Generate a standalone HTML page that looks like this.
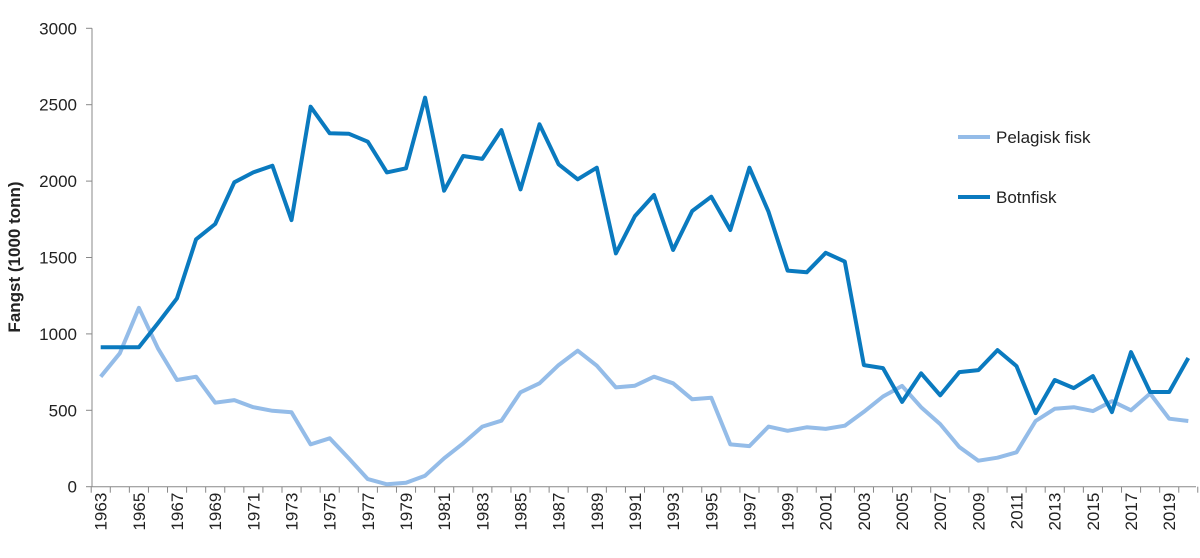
<!DOCTYPE html>
<html><head><meta charset="utf-8"><style>
body{margin:0;background:#fff;}
svg{display:block;font-family:"Liberation Sans",sans-serif;}
</style></head><body>
<svg id="chart" width="1200" height="558"></svg>
<script>
const years = [];
for (let y = 1963; y <= 2020; y++) years.push(y);
const botnfisk = [912,912,912,1070,1233,1619,1719,1992,2057,2101,1745,2487,2313,2310,2258,2057,2084,2546,1937,2164,2145,2334,1946,2372,2110,2012,2088,1527,1771,1909,1549,1804,1898,1680,2088,1800,1414,1403,1531,1473,796,776,555,742,598,750,763,894,789,482,698,645,724,488,881,620,620,842];
const pelagisk = [720,873,1171,906,698,720,550,567,520,497,487,277,317,186,50,16,26,72,186,284,393,432,618,677,796,890,792,650,661,720,677,572,582,277,266,393,366,389,378,399,490,590,660,520,410,260,170,190,225,430,510,520,495,560,500,610,445,430];
const yTicks = [0,500,1000,1500,2000,2500,3000];
const NS = "http://www.w3.org/2000/svg";
const svg = document.getElementById('chart');
const x0 = 100.7, dx = 19.08, yBase = 486.7, yScale = 76.4/500;
const X = yr => x0 + (yr - 1963) * dx;
const Y = v => yBase - v * yScale;
function el(tag, attrs, parent) {
  const e = document.createElementNS(NS, tag);
  for (const k in attrs) e.setAttribute(k, attrs[k]);
  (parent || svg).appendChild(e);
  return e;
}
// y axis
const ya = el('line', {x1:92, y1:Y(3000), x2:92, y2:yBase, stroke:'#888', 'stroke-width':1});


yTicks.forEach(t => {
  el('line', {x1:86, y1:Y(t), x2:92, y2:Y(t), stroke:'#888'});
  const lb = el('text', {x:77, y:Y(t)+6, 'text-anchor':'end', 'font-size':17, fill:'#222'});
  lb.textContent = t;
  
  
});
// x axis
const xa = el('line', {x1:92, y1:yBase, x2:1196, y2:yBase, stroke:'#888', 'stroke-width':1});


years.forEach((yr, i) => {
  el('line', {x1:X(yr)-9.5, y1:yBase, x2:X(yr)-9.5, y2:yBase+6, stroke:'#888'});
  if (i % 2 === 0) {
    const lb = el('text', {x:0, y:0, 'text-anchor':'end', 'font-size':17, fill:'#222',
      transform:`translate(${X(yr)+6},${yBase+6}) rotate(-90)`});
    lb.textContent = yr;
    
    
  }
});
el('line', {x1:X(2020)+9.5, y1:yBase, x2:X(2020)+9.5, y2:yBase+6, stroke:'#888'});
// y title
const yt = el('text', {x:0, y:0, 'text-anchor':'middle', 'font-size':17, 'font-weight':'bold', fill:'#222',
  transform:'translate(20,257) rotate(-90)'});
yt.textContent = 'Fangst (1000 tonn)';


// series
function pts(arr) { return arr.map((v, i) => X(years[i]).toFixed(1) + ',' + Y(v).toFixed(1)).join(' '); }
const pl = el('polyline', {points:pts(pelagisk), fill:'none', stroke:'#94bce8', 'stroke-width':4, 'stroke-linejoin':'round'});


const bl = el('polyline', {points:pts(botnfisk), fill:'none', stroke:'#0a7abf', 'stroke-width':4, 'stroke-linejoin':'round'});


// legend
const leg = [['Pelagisk fisk', '#94bce8', 137], ['Botnfisk', '#0a7abf', 197]];
leg.forEach(([name, col, y]) => {
  const g = el('g', {});
  
  
  el('line', {x1:958, y1:y, x2:990, y2:y, stroke:col, 'stroke-width':4}, g);
  const t = el('text', {x:996, y:y+6, 'font-size':17, fill:'#222'}, g);
  t.textContent = name;
});
</script>
</body></html>
